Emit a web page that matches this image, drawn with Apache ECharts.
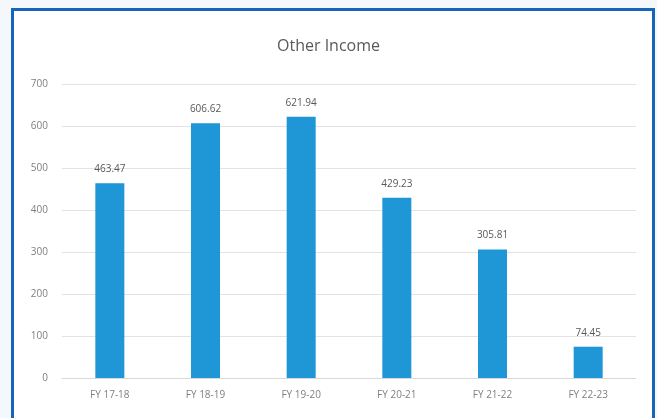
<!DOCTYPE html>
<html><head><meta charset="utf-8">
<script src="https://cdn.jsdelivr.net/npm/echarts@6/dist/echarts.min.js"></script>
<style>
html,body{margin:0;padding:0;width:657px;height:418px;overflow:hidden;background:#f4f7fb;}
#frame{position:absolute;left:11px;top:8px;width:638px;height:420px;border:3px solid #1565b8;background:#fff;}
#chart{position:absolute;left:0;top:0;width:657px;height:418px;}
</style></head>
<body>
<div id="frame"></div>
<div id="chart"></div>
<script>
const categories = ['FY 17-18','FY 18-19','FY 19-20','FY 20-21','FY 21-22','FY 22-23'];
const values = [463.47, 606.62, 621.94, 429.23, 305.81, 74.45];
const yTicks = [0,100,200,300,400,500,600,700];

const chart = echarts.init(document.getElementById('chart'), null, {renderer:'canvas'});
chart.setOption({
  backgroundColor: 'transparent',
  animation: false,
  title: {
    text: 'Other Income', left: 'center', top: 33,
    textStyle: {fontFamily: 'Open Sans', fontSize: 16, fontWeight: 'normal', color: '#595959'}
  },
  grid: {left: 62, right: 21, top: 84, bottom: 40, containLabel: false},
  xAxis: {
    type: 'category', data: categories,
    axisLine: {lineStyle: {color: '#d9d9d9'}},
    axisTick: {show: false},
    axisLabel: {color: '#7f7f7f', fontSize: 10, fontFamily: 'Open Sans', margin: 12}
  },
  yAxis: {
    type: 'value', min: yTicks[0], max: yTicks[yTicks.length-1], interval: 100,
    axisLine: {show: false}, axisTick: {show: false},
    axisLabel: {color: '#7f7f7f', fontSize: 10, fontFamily: 'Open Sans', margin: 14},
    splitLine: {lineStyle: {color: '#e3e3e3'}}
  },
  series: [{
    type: 'bar', data: values, barWidth: 29,
    itemStyle: {color: '#1f96d6'},
    label: {show: true, position: 'top', distance: 9, color: '#595959', fontSize: 10, fontFamily: 'Open Sans',
      formatter: p => p.value.toFixed(2)}
  }]
});
</script>
</body></html>
